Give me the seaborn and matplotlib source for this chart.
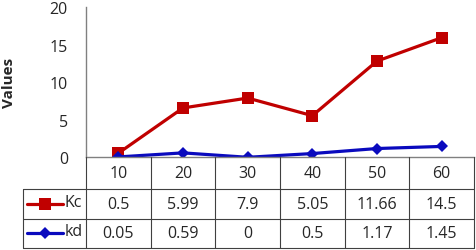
import matplotlib
matplotlib.use("Agg")
import matplotlib.pyplot as plt
import matplotlib.transforms as mtrans
from matplotlib.lines import Line2D
import numpy as np
import pandas as pd
import seaborn as sns

# data (stacked line chart: Kc drawn on top of kd)
categories = ["10", "20", "30", "40", "50", "60"]
kc = [0.5, 5.99, 7.9, 5.05, 11.66, 14.5]
kd = [0.05, 0.59, 0, 0.5, 1.17, 1.45]
kc_labels = ["0.5", "5.99", "7.9", "5.05", "11.66", "14.5"]
kd_labels = ["0.05", "0.59", "0", "0.5", "1.17", "1.45"]
yticks = [0, 5, 10, 15, 20]

red = "#C00000"
blue = "#0A0ABE"

sns.set_style("white")
plt.rcParams["font.family"] = ["Open Sans", "DejaVu Sans"]

W, H = 476, 251
fig = plt.figure(figsize=(W / 100, H / 100), dpi=100)
fig.set_facecolor("w")

# plot area in pixels: x 86..474, y 8..158 (from top)
ax = fig.add_axes([86 / W, (H - 158.3) / H, (474 - 86) / W, 150 / H])

df = pd.DataFrame({"cat": categories,
                   "kd": kd,
                   "kc_stack": np.array(kc) + np.array(kd)})
sns.lineplot(data=df, x="cat", y="kc_stack", ax=ax, color=red, lw=2.3,
             marker="s", markersize=9, markeredgewidth=0, sort=False)
sns.lineplot(data=df, x="cat", y="kd", ax=ax, color=blue, lw=2.3,
             marker="D", markersize=6.5, markeredgewidth=0, sort=False)

ax.set_xlim(-0.5, len(categories) - 0.5)
ax.set_ylim(0, 20)
ax.set_yticks(yticks)
ax.tick_params(axis="y", labelsize=11.5, length=0, pad=13)
ax.set_xticks([])
ax.set_xlabel("")
ax.set_ylabel("Values", fontsize=11, fontweight="bold", labelpad=24)
for s in ["top", "right"]:
    ax.spines[s].set_visible(False)
ax.spines["left"].set_color("#808080")
ax.spines["bottom"].set_color("#808080")
ax.spines["left"].set_linewidth(1)
ax.spines["bottom"].set_linewidth(1)

# data table below, x in category units, y in figure fraction
tr = mtrans.blended_transform_factory(ax.transData, fig.transFigure)
def fy(py):
    return (H - py) / H

n = len(categories)
left_leg = -0.5 - 63 / 64.6
right = n - 0.5
y_top, y_r1, y_r2, y_bot = 158.3, 190, 219.5, 248.5
lc = "#404040"
lines = [
    ([left_leg, right], [y_r1, y_r1]),
    ([left_leg, right], [y_r2, y_r2]),
    ([left_leg, right], [y_bot, y_bot]),
    ([left_leg, left_leg], [y_r1, y_bot]),
    ([-0.5, -0.5], [y_top, y_bot]),
    ([right, right], [y_top, y_bot]),
]
for i in range(1, n):
    lines.append(([i - 0.5, i - 0.5], [y_top, y_bot]))
for xs, ys in lines:
    fig.add_artist(Line2D(xs, [fy(v) for v in ys], transform=tr,
                          color=lc, lw=0.8))

fs = 11.5
for i, c in enumerate(categories):
    fig.text(i, fy((y_top + y_r1) / 2), c, transform=tr, ha="center",
             va="center", fontsize=fs)
    fig.text(i, fy((y_r1 + y_r2) / 2), kc_labels[i], transform=tr,
             ha="center", va="center", fontsize=fs)
    fig.text(i, fy((y_r2 + y_bot) / 2), kd_labels[i], transform=tr,
             ha="center", va="center", fontsize=fs)

# legend keys in the table
for name, yy, col, mk, ms in [("Kc", (y_r1 + y_r2) / 2, red, "s", 8),
                              ("kd", (y_r2 + y_bot) / 2, blue, "D", 6)]:
    x0, x1 = left_leg + 0.06, left_leg + 0.62
    fig.add_artist(Line2D([x0, x1], [fy(yy), fy(yy)], transform=tr,
                          color=col, lw=2.3))
    fig.add_artist(Line2D([(x0 + x1) / 2], [fy(yy)], transform=tr,
                          color=col, marker=mk, markersize=ms,
                          markeredgewidth=0, lw=0))
    fig.text(x1 + 0.02, fy(yy) + 1.5 / H, name, transform=tr, ha="left",
             va="center", fontsize=fs)

fig.savefig("out.png", dpi=100)
